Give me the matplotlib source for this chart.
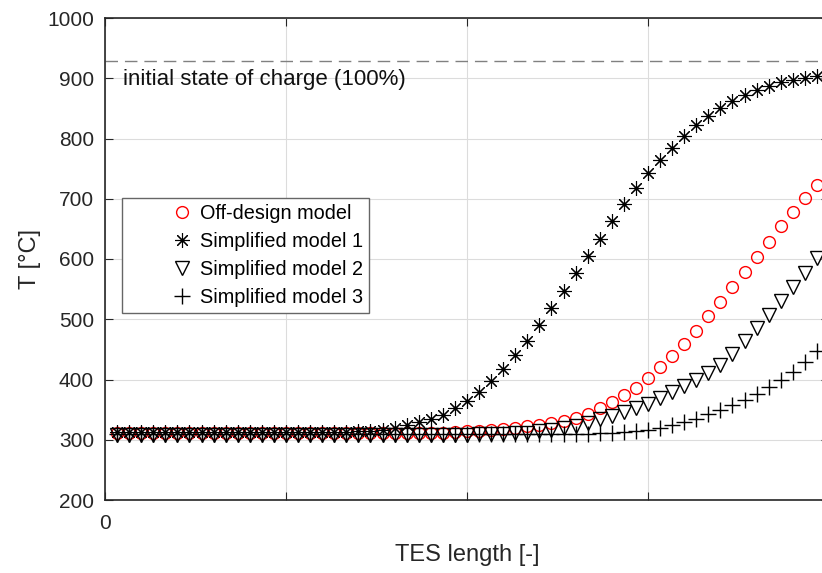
import numpy as np
import matplotlib
matplotlib.use('Agg')
import matplotlib.pyplot as plt

# --- data (T in degC along the TES) ---
n_points = 59
tes_pos = np.arange(1, n_points + 1) / 60.0

off_design = [311] * 27 + [312, 313, 314, 315, 316, 318, 320, 322, 325, 328, 331, 336,
                           343, 352, 362, 374, 386, 402, 420, 439, 459, 481, 505, 528,
                           553, 579, 604, 629, 654, 678, 702, 723]
simplified_1 = [313] * 20 + [314, 315, 317, 319, 324, 329, 334, 341, 352, 365, 380, 397,
                             417, 440, 464, 490, 518, 547, 576, 605, 634, 663, 691, 718,
                             742, 765, 785, 804, 822, 837, 851, 863, 872, 880, 887, 893,
                             897, 900, 903]
simplified_2 = [308] * 30 + [309, 309, 310, 311, 312, 314, 316, 319, 323, 328, 334, 340,
                             346, 352, 360, 369, 379, 389, 400, 410, 424, 443, 464, 485,
                             507, 531, 554, 577, 601]
simplified_3 = [310] * 40 + [311, 312, 313, 315, 317, 320, 324, 329, 335, 342, 349, 357,
                             366, 376, 387, 399, 413, 429, 447]

initial_soc = 928

x_ticks = [0, 0.25, 0.5, 0.75, 1.0]
x_ticklabels = ['0', '', '', '', '']
y_ticks = [200, 300, 400, 500, 600, 700, 800, 900, 1000]

plt.rcParams['font.family'] = ['Liberation Sans', 'DejaVu Sans']

fig = plt.figure(figsize=(8.22, 5.73), dpi=100)
ax = fig.add_axes([105 / 822, 73 / 573, 724 / 822, 482 / 573])

ax.axhline(initial_soc, color='#808080', lw=1.0, dashes=(9, 5), zorder=1)
ax.text(0.025, initial_soc - 12, 'initial state of charge (100%)', fontsize=16,
        va='top', ha='left', color='#111111')

ax.plot(tes_pos, off_design, ls='none', marker='o', ms=8.5, mfc='none', mec='red',
        mew=1.0, label='Off-design model')
ax.plot(tes_pos, simplified_1, ls='none', marker=(8, 2, 0), ms=10.5, mec='black',
        mew=0.8, label='Simplified model 1')
ax.plot(tes_pos, simplified_2, ls='none', marker='v', ms=10, mfc='none', mec='black',
        mew=1.0, label='Simplified model 2')
ax.plot(tes_pos, simplified_3, ls='none', marker='+', ms=11, mec='black',
        mew=1.0, label='Simplified model 3')

ax.set_xlim(0, 1)
ax.set_ylim(200, 1000)
ax.set_xticks(x_ticks)
ax.set_xticklabels(x_ticklabels)
ax.set_yticks(y_ticks)
ax.tick_params(axis='both', direction='in', length=6, labelsize=15, colors='#262626',
               top=True, right=True)
ax.tick_params(axis='x', pad=10)
ax.tick_params(axis='y', pad=8)
ax.grid(True, color='#dcdcdc', lw=0.8)
ax.set_axisbelow(True)
for s in ax.spines.values():
    s.set_color('#262626')
    s.set_linewidth(1.2)

ax.set_xlabel('TES length [-]', fontsize=17, color='#262626', labelpad=8)
ax.set_ylabel('T [°C]', fontsize=17, color='#262626', labelpad=4)

leg = ax.legend(loc='upper left', bbox_to_anchor=(0.023, 0.627), fontsize=14.3,
                frameon=True, fancybox=False, edgecolor='#666666', framealpha=1,
                handlelength=5.5, handletextpad=-1.85, labelspacing=0.46,
                borderpad=0.3, borderaxespad=0)
leg.get_frame().set_linewidth(1.0)

fig.savefig('out.png', dpi=100)
